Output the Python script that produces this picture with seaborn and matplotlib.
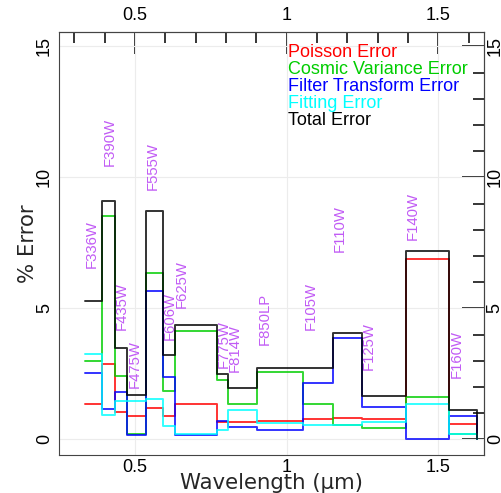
import matplotlib
matplotlib.use("Agg")
import matplotlib.pyplot as plt
from matplotlib.ticker import MultipleLocator
import numpy as np
import pandas as pd
import seaborn as sns

# Filter names and pivot wavelengths (micron); the last edge closes the F160W bin
filters = ["F336W", "F390W", "F435W", "F475W", "F555W", "F606W", "F625W", "F775W",
           "F814W", "F850LP", "F105W", "F110W", "F125W", "F140W", "F160W"]
wave_edges = [0.3355, 0.3921, 0.4328, 0.4747, 0.5361, 0.5921, 0.6311, 0.7693,
              0.8057, 0.9033, 1.0552, 1.1534, 1.2486, 1.3923, 1.5369, 1.627]

# Percentage error per filter for each component
poisson_err = [1.36, 2.86, 1.03, 0.88, 1.18, 0.88, 1.35, 0.67, 0.65, 0.71, 0.78, 0.82, 0.76, 6.88, 0.58]
cosmic_err = [2.99, 8.52, 2.40, 0.20, 6.36, 1.84, 4.15, 2.26, 1.35, 2.57, 1.34, 0.55, 0.44, 1.63, 0.20]
filter_err = [2.52, 1.14, 1.79, 0.16, 5.65, 2.39, 0.16, 0.70, 0.48, 0.35, 2.14, 3.88, 1.24, 0.00, 0.90]
fitting_err = [3.27, 0.93, 1.47, 1.47, 1.53, 0.52, 0.19, 0.35, 1.12, 0.61, 0.55, 0.55, 0.66, 1.35, 0.20]
total_err = [5.28, 9.08, 3.50, 1.69, 8.73, 3.22, 4.36, 2.49, 1.95, 2.73, 2.71, 4.07, 1.65, 7.20, 1.12]

# Height at which each filter name starts
label_y = [6.53, 10.43, 4.17, 1.95, 9.52, 3.79, 5.0, 2.72, 2.58, 3.6, 4.17, 7.15, 2.65, 7.6, 2.33]

components = ["Poisson Error", "Cosmic Variance Error", "Filter Transform Error",
              "Fitting Error", "Total Error"]
comp_colors = ["#ff0000", "#00cd00", "#0000ff", "#00ffff", "#000000"]

xticks = [0.5, 1.0, 1.5]
xtick_labels = ["0.5", "1", "1.5"]
yticks = [0, 5, 10, 15]
ytick_labels = ["0", "5", "10", "15"]

sns.set_style("white")
plt.rcParams["font.family"] = ["Liberation Sans", "DejaVu Sans"]

series = [poisson_err, cosmic_err, filter_err, fitting_err, total_err]
rows = []
for name, vals in zip(components, series):
    # each step ends with a drop back to zero at the final edge
    for w, v in zip(wave_edges, list(vals) + [0.0]):
        rows.append({"wavelength": w, "error": v, "component": name})
df = pd.DataFrame(rows)

fig = plt.figure(figsize=(5.01, 4.93), dpi=100)
ax = fig.add_axes([59.3 / 501, 1 - 455 / 493, (484 - 59.3) / 501, (455 - 31.7) / 493])

sns.lineplot(data=df, x="wavelength", y="error", hue="component", hue_order=components,
             palette=dict(zip(components, comp_colors)), drawstyle="steps-post",
             estimator=None, sort=False, legend=False, linewidth=1.4, alpha=0.8, ax=ax)

ax.set_xlim(0.2504, 1.6507)
ax.set_ylim(-0.6, 15.56)

ax.set_xticks(xticks, xtick_labels)
ax.set_yticks(yticks, ytick_labels)
ax.xaxis.set_minor_locator(MultipleLocator(0.1))
ax.yaxis.set_minor_locator(MultipleLocator(1))
ax.grid(which="major", color="#ececec", linewidth=0.8)
ax.set_axisbelow(True)

tick_kw = dict(direction="in", color="black", width=1.1, labelsize=13, labelcolor="black")
ax.tick_params(which="major", length=15.8, **tick_kw)
ax.tick_params(which="minor", length=7.9, **tick_kw)
ax.tick_params(axis="x", pad=2.9)
ax.tick_params(axis="y", pad=4.5, labelrotation=90)
for lab in ax.get_yticklabels():
    lab.set_va("center")

secx = ax.secondary_xaxis("top")
secx.set_xticks(xticks, xtick_labels)
secx.xaxis.set_minor_locator(MultipleLocator(0.1))
secx.tick_params(which="major", length=15.8, pad=5.7, **tick_kw)
secx.tick_params(which="minor", length=7.9, **tick_kw)

secy = ax.secondary_yaxis("right")
secy.set_yticks(yticks, ytick_labels)
secy.yaxis.set_minor_locator(MultipleLocator(1))
secy.tick_params(which="major", length=15.8, pad=2.0, labelrotation=90, **tick_kw)
secy.tick_params(which="minor", length=7.9, **tick_kw)
for lab in secy.get_yticklabels():
    lab.set_va("center")

for a in (ax, secx, secy):
    for sp in a.spines.values():
        sp.set_color("#444444")
        sp.set_linewidth(0.8)

ax.set_xlabel("Wavelength (\u00b5m)", fontsize=15.3, family="DejaVu Sans")
ax.set_ylabel("% Error", fontsize=15.3, family="DejaVu Sans")
ax.xaxis.set_label_coords(0.5, -0.042)
ax.yaxis.set_label_coords(-0.050, 0.5)

# Filter names, drawn vertically from each pivot wavelength
for name, w, yv in zip(filters, wave_edges, label_y):
    ax.text(w, yv, name, rotation=90, ha="left", va="bottom", color="#c15bf5", fontsize=10.7)

# Component key as coloured text in the top right
for i, (name, col) in enumerate(zip(components, comp_colors)):
    ax.text(1.004, 15.08 - i * 0.645, name, color=col, fontsize=13, ha="left", va="top")

fig.savefig("out.png", dpi=100)
